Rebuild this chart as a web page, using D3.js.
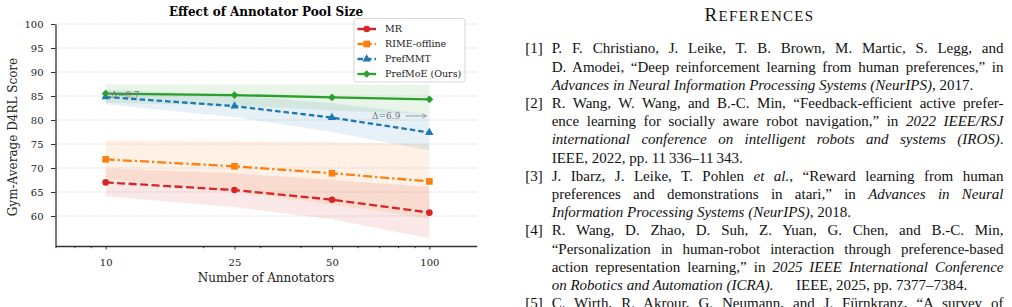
<!DOCTYPE html>
<html>
<head>
<meta charset="utf-8">
<script src="https://cdn.jsdelivr.net/npm/d3@7"></script>
<style>
  html, body { margin: 0; padding: 0; background: #fff; }
  #page { position: relative; width: 1012px; height: 307px; overflow: hidden; }
  #page svg { position: absolute; left: 0; top: 0; }
  .ref { position: absolute; white-space: pre; font-family: 'Liberation Serif', 'Times New Roman', serif;
         font-size: 15px; line-height: 18.2px; color: #111; }
</style>
</head>
<body>
<div id="page"></div>
<script>
// ── Data ───────────────────────────────────────────────────
const annotators = [10, 25, 50, 100];
const minorTicks = [7, 8, 9, 20, 30, 40, 60, 70, 80, 90];
const yTicks = [60, 65, 70, 75, 80, 85, 90, 95, 100];

const seriesNames = ['MR', 'RIME-offline', 'PrefMMT', 'PrefMoE (Ours)'];
const mrMean   = [67.0, 65.4, 63.4, 60.7];
const mrStd    = [2.9, 3.5, 4.1, 5.35];
const rimeMean = [71.8, 70.35, 68.9, 67.2];
const rimeStd  = [4.0, 5.3, 6.5, 7.7];
const mmtMean  = [84.8, 82.9, 80.5, 77.4];
const mmtStd   = [1.5, 2.3, 3.0, 3.75];
const moeMean  = [85.5, 85.2, 84.7, 84.3];
const moeStd   = [1.9, 2.2, 2.7, 3.1];

const deltaLabels = ['Δ=0.7', 'Δ=6.9'];

const refLabels = ['[1]', '[2]', '[3]', '[4]', '[5]'];
const refLines = [
  ['P. F. Christiano, J. Leike, T. B. Brown, M. Martic, S. Legg, and',
   'D. Amodei, “Deep reinforcement learning from human preferences,” in',
   '_Advances in Neural Information Processing Systems (NeurIPS)_, 2017.'],
  ['R. Wang, W. Wang, and B.-C. Min, “Feedback-efficient active prefer-',
   'ence learning for socially aware robot navigation,” in _2022 IEEE/RSJ_',
   '_international conference on intelligent robots and systems (IROS)_.',
   'IEEE, 2022, pp. 11\u2009336–11\u2009343.'],
  ['J. Ibarz, J. Leike, T. Pohlen _et al._, “Reward learning from human',
   'preferences and demonstrations in atari,” in _Advances in Neural_',
   '_Information Processing Systems (NeurIPS)_, 2018.'],
  ['R. Wang, D. Zhao, D. Suh, Z. Yuan, G. Chen, and B.-C. Min,',
   '“Personalization in human-robot interaction through preference-based',
   'action representation learning,” in _2025 IEEE International Conference_',
   '_on Robotics and Automation (ICRA)._\u2003\u2002IEEE, 2025, pp. 7377–7384.'],
  ['C. Wirth, R. Akrour, G. Neumann, and J. Fürnkranz, “A survey of']
];

// ── Chart ──────────────────────────────────────────────────
const FONT = "'DejaVu Serif', serif";
const page = d3.select('#page');
const svg = page.append('svg').attr('width', 1012).attr('height', 307);

const xs = d3.scaleLog().domain([7, 140]).range([55.5, 476.7]);
const ys = d3.scaleLinear().domain([53.75, 100]).range([246, 24]);

const series = [
  { name: seriesNames[0], mean: mrMean,   std: mrStd,   color: '#d62728', dash: '8,3.5',       sym: d3.symbolCircle,   size: 34, rot: 0 },
  { name: seriesNames[1], mean: rimeMean, std: rimeStd, color: '#ff7f0e', dash: '9,3,2.2,3',   sym: d3.symbolSquare,   size: 44, rot: 0 },
  { name: seriesNames[2], mean: mmtMean,  std: mmtStd,  color: '#1f77b4', dash: '5.5,3',       sym: d3.symbolTriangle, size: 30, rot: 0 },
  { name: seriesNames[3], mean: moeMean,  std: moeStd,  color: '#2ca02c', dash: null,          sym: d3.symbolSquare,   size: 30, rot: 45 }
];

// grid
svg.append('g').selectAll('line').data(yTicks).join('line')
  .attr('x1', xs.range()[0]).attr('x2', xs.range()[1])
  .attr('y1', d => ys(d)).attr('y2', d => ys(d))
  .attr('stroke', '#b5b5b5').attr('stroke-width', 0.8).attr('stroke-dasharray', '1,2');

// bands
const area = d3.area().x((d, i) => xs(annotators[i]));
svg.append('g').selectAll('path').data(series).join('path')
  .attr('d', s => area.y0((d, i) => ys(s.mean[i] - s.std[i])).y1((d, i) => ys(s.mean[i] + s.std[i]))(s.mean))
  .attr('fill', s => s.color).attr('fill-opacity', 0.11);

// lines + markers
const line = d3.line().x((d, i) => xs(annotators[i])).y(d => ys(d));
const lg = svg.append('g').selectAll('g').data(series).join('g');
lg.append('path')
  .attr('d', s => line(s.mean))
  .attr('fill', 'none').attr('stroke', s => s.color).attr('stroke-width', 2.3)
  .attr('stroke-dasharray', s => s.dash);
lg.each(function(s) {
  d3.select(this).selectAll('path.mk').data(s.mean).join('path')
    .attr('class', 'mk')
    .attr('d', d3.symbol(s.sym, s.size))
    .attr('transform', (d, i) => `translate(${xs(annotators[i])},${ys(d)}) rotate(${s.rot})`)
    .attr('fill', s.color);
});

// axes
const xAxis = svg.append('g').attr('transform', `translate(0,${ys.range()[0]})`)
  .call(d3.axisBottom(xs).tickValues(annotators).tickFormat(d3.format('d'))
    .tickSize(3.5).tickSizeOuter(0).tickPadding(9));
svg.append('g').attr('transform', `translate(0,${ys.range()[0]})`)
  .call(d3.axisBottom(xs).tickValues(minorTicks).tickFormat('').tickSize(2.2).tickSizeOuter(0))
  .select('.domain').remove();
const yAxis = svg.append('g').attr('transform', `translate(${xs.range()[0]},0)`)
  .call(d3.axisLeft(ys).tickValues(yTicks).tickSize(4.5).tickSizeOuter(0).tickPadding(7.5));

svg.selectAll('.domain').attr('stroke', '#333').attr('stroke-width', 1.3);
svg.selectAll('.tick line').attr('stroke', '#333').attr('stroke-width', 1);
svg.selectAll('.tick text').attr('font-family', FONT).attr('font-size', 10).attr('fill', '#222');

// title & axis labels
const xMid = (xs.range()[0] + xs.range()[1]) / 2;
svg.append('text').attr('x', xMid).attr('y', 16)
  .attr('text-anchor', 'middle').attr('font-family', FONT).attr('font-size', 12).attr('font-weight', 'bold')
  .text('Effect of Annotator Pool Size');
svg.append('text').attr('x', xMid).attr('y', 281.5)
  .attr('text-anchor', 'middle').attr('font-family', FONT).attr('font-size', 12).attr('fill', '#222')
  .text('Number of Annotators');
svg.append('text').attr('transform', 'translate(17,137) rotate(-90)')
  .attr('text-anchor', 'middle').attr('font-family', FONT).attr('font-size', 12).attr('fill', '#222')
  .text('Gym-Average D4RL Score');

// delta annotations
const annG = svg.append('g').attr('fill', '#777').attr('stroke', '#999');
const y0 = ys((moeMean[0] + mmtMean[0]) / 2);
annG.append('path')
  .attr('d', `M${xs(10) + 4.5},${y0 - 2} L${xs(10) + 1.5},${y0} L${xs(10) + 4.5},${y0 + 2}`)
  .attr('fill', 'none').attr('stroke-width', 1);
annG.append('text').attr('x', xs(10) + 5.5).attr('y', y0 + 3.2)
  .attr('stroke', 'none').attr('font-family', FONT).attr('font-size', 9).text(deltaLabels[0]);
const y1 = ys((moeMean[3] + mmtMean[3]) / 2);
annG.append('line').attr('x1', xs(100) - 24).attr('x2', xs(100) - 3).attr('y1', y1).attr('y2', y1).attr('stroke-width', 1);
annG.append('path')
  .attr('d', `M${xs(100) - 7},${y1 - 2.2} L${xs(100) - 3},${y1} L${xs(100) - 7},${y1 + 2.2}`)
  .attr('fill', 'none').attr('stroke-width', 1);
annG.append('text').attr('x', xs(100) - 29).attr('y', y1 + 3.2).attr('text-anchor', 'end')
  .attr('stroke', 'none').attr('font-family', FONT).attr('font-size', 9).text(deltaLabels[1]);

// legend
const leg = svg.append('g').attr('transform', 'translate(354,18.5)');
leg.append('rect').attr('width', 111).attr('height', 63.5).attr('rx', 2.5)
  .attr('fill', '#fff').attr('fill-opacity', 0.85).attr('stroke', '#ccc').attr('stroke-width', 0.8);
const li = leg.selectAll('g.item').data(series).join('g').attr('class', 'item')
  .attr('transform', (s, i) => `translate(0,${10.5 + i * 15})`);
li.append('line').attr('x1', 3.5).attr('x2', 22).attr('stroke', s => s.color).attr('stroke-width', 2.3)
  .attr('stroke-dasharray', s => s.dash);
li.append('path').attr('d', s => d3.symbol(s.sym, s.size)())
  .attr('transform', s => `translate(12.7,0) rotate(${s.rot})`).attr('fill', s => s.color);
li.append('text').attr('x', 31).attr('y', 3.4).attr('font-family', FONT).attr('font-size', 9.5).attr('fill', '#222')
  .text(s => s.name);

// ── References ────────────────────────────────────────────
page.append('div').attr('class', 'ref')
  .style('left', '659.5px').style('top', '4.6px').style('width', '200px').style('text-align', 'center')
  .style('font-size', '19px').style('line-height', '19px').style('letter-spacing', '1.3px')
  .html('R<span style="font-size:15px">EFERENCES</span>');

const TEXT_LEFT = 551.7, TEXT_RIGHT = 1003.5, LINE_H = 18.2, TOP0 = 39.3;
function fillLine(div, str) {
  str.split('_').forEach((seg, k) => {
    if (!seg) return;
    div.append('span').style('font-style', k % 2 ? 'italic' : 'normal').text(seg);
  });
}
let k = 0;
refLines.forEach((lines, e) => {
  page.append('div').attr('class', 'ref')
    .style('left', '500px').style('width', '42.7px').style('text-align', 'right')
    .style('top', (TOP0 + k * LINE_H) + 'px').text(refLabels[e]);
  lines.forEach((str, j) => {
    const div = page.append('div').attr('class', 'ref')
      .style('left', TEXT_LEFT + 'px').style('top', (TOP0 + k * LINE_H) + 'px');
    fillLine(div, str);
    const isLast = j === lines.length - 1 && e < refLines.length - 1;
    if (!isLast) {
      const w = div.node().getBoundingClientRect().width;
      const spaces = (str.match(/ /g) || []).length;
      if (spaces) div.style('word-spacing', ((TEXT_RIGHT - TEXT_LEFT - w) / spaces) + 'px');
    }
    k++;
  });
});
</script>
</body>
</html>
